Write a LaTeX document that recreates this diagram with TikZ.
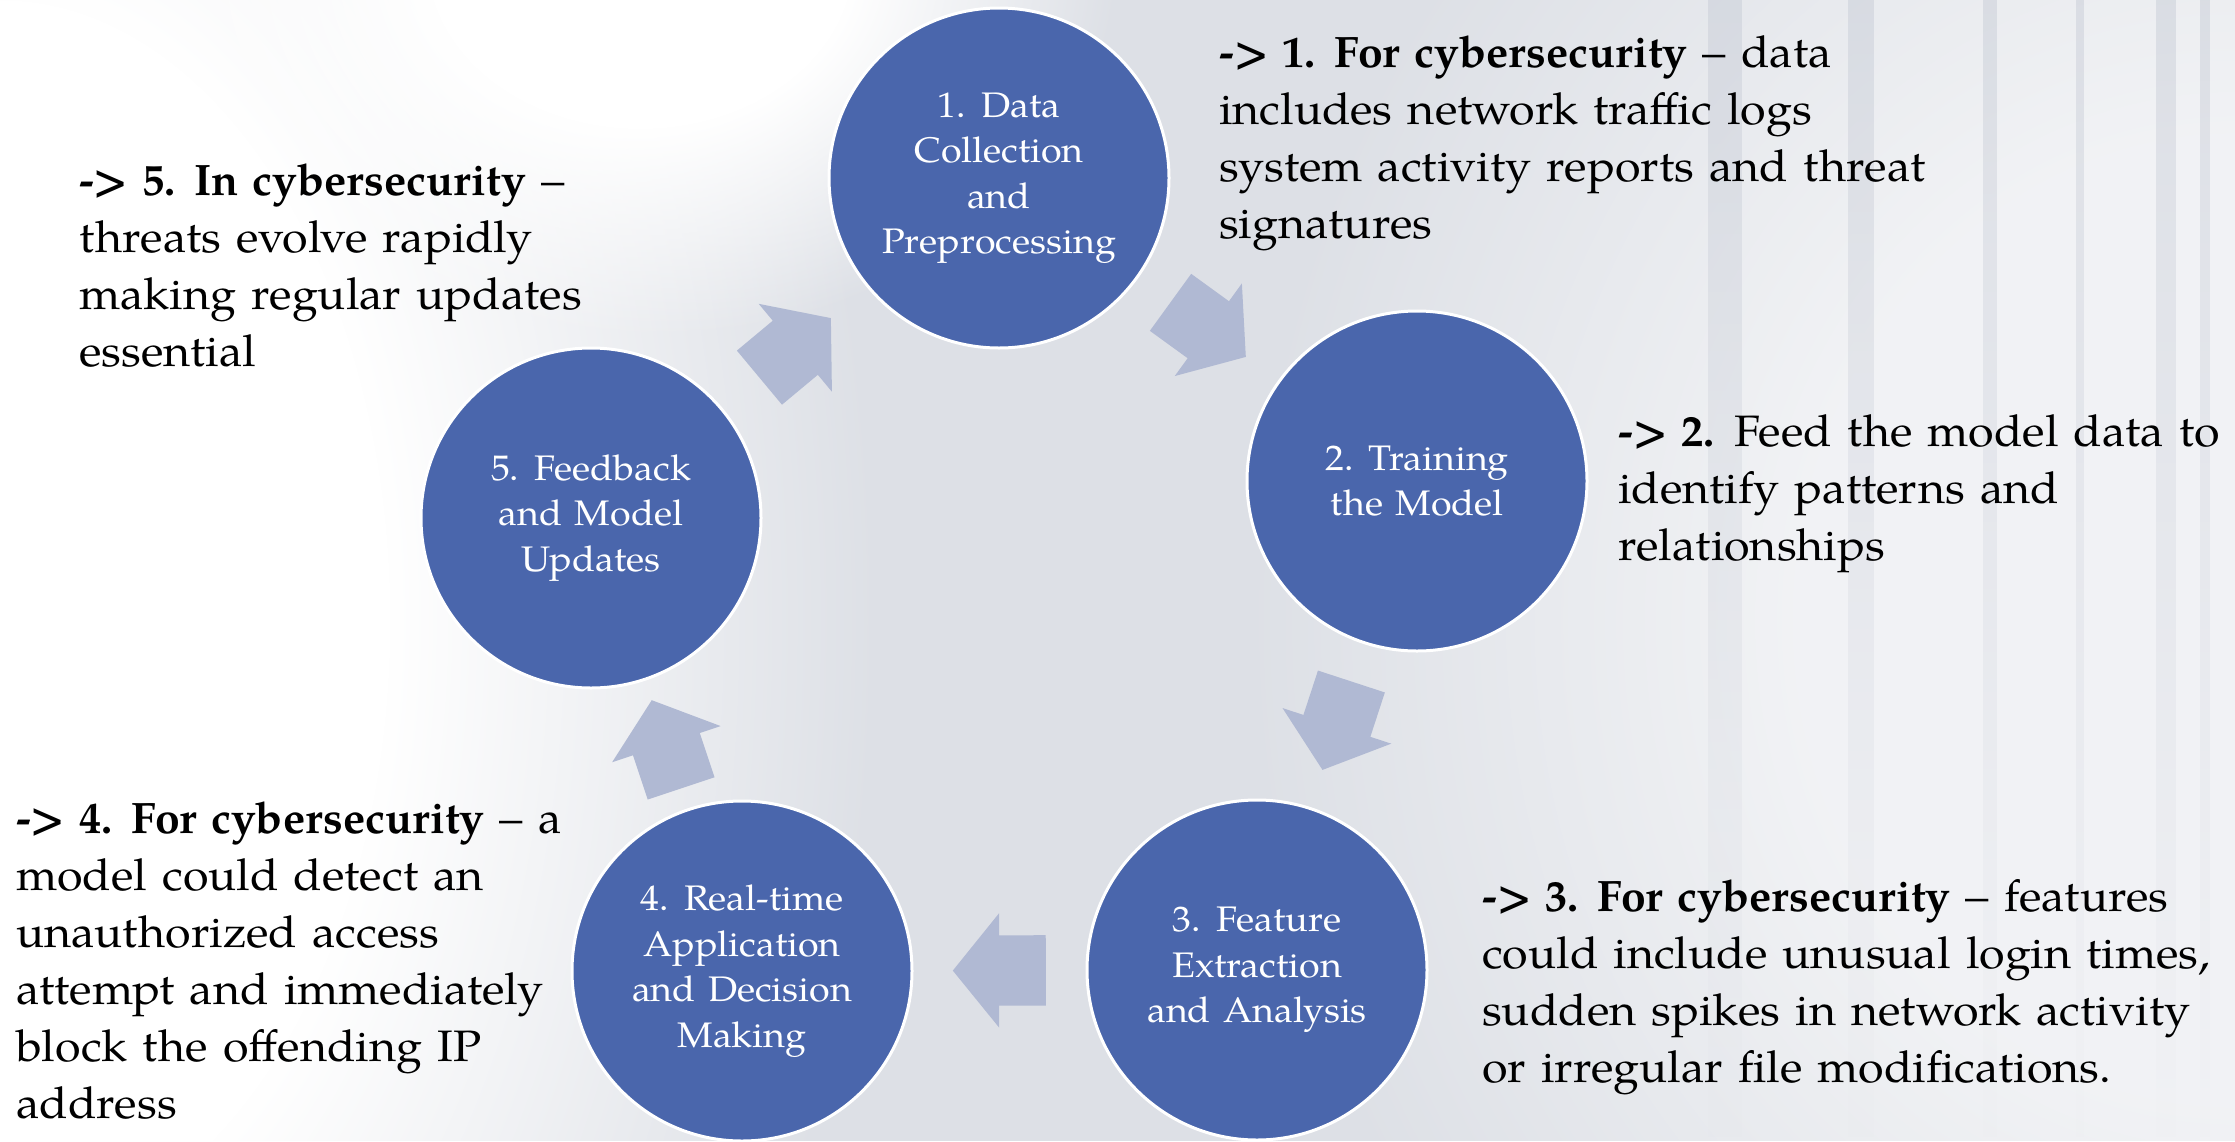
\documentclass[tikz,border=0pt]{standalone}
\usepackage{fontspec}
\setmainfont{texgyrepagella}[Extension=.otf, UprightFont=*-regular, BoldFont=*-bold, ItalicFont=*-italic, BoldItalicFont=*-bolditalic, FakeStretch=1.06, WordSpace=1.3, BoldFeatures={FakeStretch=1.01}]
\usetikzlibrary{shapes.arrows,calc,fadings}

\definecolor{stageblue}{RGB}{74,102,172}
\definecolor{flowgray}{RGB}{176,185,211}
\definecolor{bggray}{RGB}{221,224,230}
\definecolor{streakgray}{RGB}{196,201,212}

% soft radial mask: opaque core, fading to nothing at the path rim (25bp)
\pgfdeclareradialshading{glowshade}{\pgfpointorigin}{color(0bp)=(transparent!0); color(11bp)=(transparent!0); color(25bp)=(transparent!100); color(50bp)=(transparent!100)}
\pgfdeclarefading{glow}{\pgfuseshading{glowshade}}

\tikzset{
  stage/.style={circle, fill=stageblue, draw=white, line width=3pt,
    minimum size=340pt, inner sep=0pt, text=white, align=center,
    font=\fontsize{35.5}{45.5}\selectfont},
  note/.style={anchor=base west, align=left, inner sep=0pt, text=black,
    font=\fontsize{44}{57}\selectfont},
  flow/.style={single arrow, fill=flowgray, draw=none,
    inner xsep=0pt, inner ysep=35pt, minimum height=93pt,
    single arrow head extend=22pt, single arrow tip angle=102},
}

\begin{document}
\begin{tikzpicture}[x=1pt,y=-1pt]
\useasboundingbox (0,0) rectangle (2235,1141);

% backdrop
\fill[bggray] (0,0) rectangle (2235,1141);
\begin{scope}
  \clip (0,0) rectangle (2235,1141);
  \fill[white, path fading=glow] (0,620) ellipse (880 and 1400);
  \fill[white, path fading=glow] (640,-40) ellipse (480 and 380);
  \fill[white, opacity=0.6, path fading=glow] (2235,620) ellipse (1000 and 1100);
  \foreach \sx/\sw in {1725/34, 1861/26, 2166/20, 2205/10, 1990/14, 2080/8}{
    \fill[streakgray, opacity=0.45, path fading=south] (\sx-\sw/2,0) rectangle (\sx+\sw/2,1141);
  }
\end{scope}

% stages
\node[stage] (c1) at (999,178) {1. Data\\Collection\\and\\Preprocessing};
\node[stage] (c2) at (1417,481) {2. Training\\the Model};
\node[stage] (c3) at (1257,970) {3. Feature\\Extraction\\and Analysis};
\node[stage] (c4) at (742,971) {4. Real-time\\Application\\and Decision\\Making};
\node[stage] (c5) at (591,518) {5. Feedback\\and Model\\Updates};

% block arrows centred between consecutive stages
\foreach \a/\b in {c1/c2, c2/c3, c3/c4, c4/c5, c5/c1}{
  \coordinate (m-\a) at ($(\a)!0.5!(\b)$);
  \path let \p1=($(\b)-(\a)$), \n1={atan2(\y1,\x1)} in
    node[flow, rotate=\n1, anchor=tail] (f-\a) at ($(m-\a)!46.5pt!(\a)$) {};
}

% notes (anchored at the baseline of their last line)
\node[note] (t1) at (1219,238) {\textbf{-> 1. For cybersecurity} – data\\includes network traffic logs\\system activity reports and threat\\signatures};
\node[note] (t2) at (1618,560) {\textbf{-> 2.} Feed the model data to\\identify patterns and\\relationships};
\node[note] (t3) at (1482,1082) {\textbf{-> 3. For cybersecurity} – features\\could include unusual login times,\\sudden spikes in network activity\\or irregular file modifications.};
\node[note] (t4) at (16,1118) {\textbf{-> 4. For cybersecurity} – a\\model could detect an\\unauthorized access\\attempt and immediately\\block the offending IP\\address};
\node[note] (t5) at (79,366) {\textbf{-> 5. In cybersecurity} –\\threats evolve rapidly\\making regular updates\\essential};
\end{tikzpicture}
\end{document}
